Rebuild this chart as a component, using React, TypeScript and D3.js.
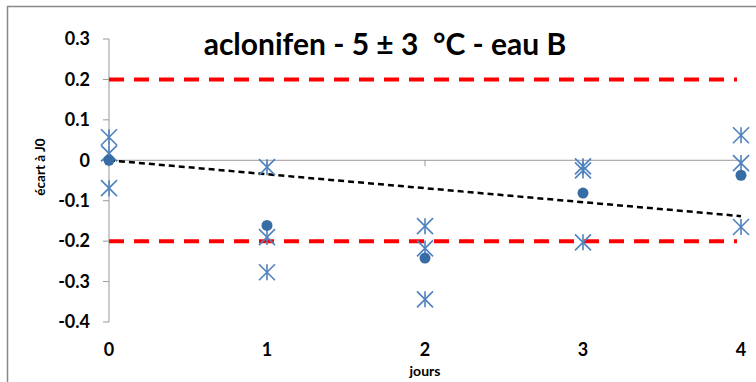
import React from "react";
import * as d3 from "d3";

const days = [0, 1, 2, 3, 4];
const meanValues = [0, -0.161, -0.242, -0.081, -0.037];
const replicateDays = [0, 0, 0, 1, 1, 1, 2, 2, 2, 3, 3, 3, 4, 4, 4];
const replicateValues = [
  0.057, 0.017, -0.069,
  -0.017, -0.19, -0.277,
  -0.163, -0.218, -0.344,
  -0.015, -0.025, -0.203,
  0.062, -0.007, -0.165,
];
const limitValues = [0.2, -0.2];
const yTicks = [0.3, 0.2, 0.1, 0, -0.1, -0.2, -0.3, -0.4];

const W = 756;
const H = 382;
const FONT = "Lato, 'Open Sans', sans-serif";

const fmtTick = (t: number) => (t === 0 ? "0" : d3.format(".1f")(t).replace("\u2212", "-"));

export default function App() {
  const x = d3.scaleLinear().domain([0, 4]).range([109, 741]);
  const y = d3.scaleLinear().domain([-0.4, 0.3]).range([322, 39]);

  // linear trend through the origin, fitted on the daily means
  const sxy = d3.sum(days, (d, i) => d * meanValues[i]);
  const sxx = d3.sum(days, (d) => d * d);
  const slope = sxy / sxx;
  const trend = d3.line<number>()
    .x((d) => x(d))
    .y((d) => y(slope * d));

  const star = (cx: number, cy: number, key: number) => {
    const r = 8;
    return (
      <g key={key} stroke="#4F81BD" strokeWidth={1.6}>
        <line x1={cx - r} y1={cy - r} x2={cx + r} y2={cy + r} />
        <line x1={cx - r} y1={cy + r} x2={cx + r} y2={cy - r} />
        <line x1={cx} y1={cy - r} x2={cx} y2={cy + r} />
      </g>
    );
  };

  return (
    <svg
      width={W}
      height={H}
      style={{ position: "absolute", left: 0, top: 0, display: "block", background: "#fff" }}
    >
      <rect x={7.5} y={6.5} width={W + 20} height={H + 20} fill="#fff" stroke="#898989" strokeWidth={1.5} />

      <text
        x={385}
        y={55}
        textAnchor="middle"
        fontFamily={FONT}
        fontWeight="bold"
        fontSize={30}
        fill="#000"
        style={{ whiteSpace: "pre" }}
      >
        {"aclonifen - 5 ± 3  °C - eau B"}
      </text>

      {/* y axis */}
      <line x1={x(0)} x2={x(0)} y1={y(0.3)} y2={y(-0.4)} stroke="#999" strokeWidth={1} />
      {yTicks.map((t) => (
        <g key={t}>
          <line x1={x(0) - 6} x2={x(0)} y1={y(t)} y2={y(t)} stroke="#999" strokeWidth={1} />
          <text x={90} y={y(t)} dy="0.35em" textAnchor="end" fontFamily={FONT} fontWeight="bold" fontSize={18} fill="#000">
            {fmtTick(t)}
          </text>
        </g>
      ))}

      {/* x axis at zero */}
      <line x1={x(0)} x2={x(4)} y1={y(0)} y2={y(0)} stroke="#999" strokeWidth={1} />
      {days.map((d) => (
        <g key={d}>
          <line x1={x(d)} x2={x(d)} y1={y(0)} y2={y(0) + 6} stroke="#999" strokeWidth={1} />
          <text x={x(d)} y={350} dy="0.35em" textAnchor="middle" fontFamily={FONT} fontWeight="bold" fontSize={18} fill="#000">
            {d}
          </text>
        </g>
      ))}

      <text x={425} y={371} dy="0.35em" textAnchor="middle" fontFamily={FONT} fontWeight="bold" fontSize={14} fill="#000">
        jours
      </text>
      <text
        transform={`translate(40,${167}) rotate(-90)`}
        dy="0.35em"
        textAnchor="middle"
        fontFamily={FONT}
        fontWeight="bold"
        fontSize={13.5}
        fill="#000"
      >
        écart à J0
      </text>

      {/* acceptance limits */}
      {limitValues.map((v) => (
        <line key={v} x1={x(0)} x2={x(4) - 4} y1={y(v)} y2={y(v)} stroke="#FF0000" strokeWidth={4} strokeDasharray="15 10" />
      ))}

      {/* trend */}
      <path d={trend([0, 4]) || ""} fill="none" stroke="#000" strokeWidth={2.5} strokeDasharray="6 4" />

      {/* replicates */}
      {replicateValues.map((v, i) => star(x(replicateDays[i]), y(v), i))}

      {/* means */}
      {meanValues.map((v, i) => (
        <circle key={i} cx={x(days[i])} cy={y(v)} r={5.5} fill="#386CA4" />
      ))}
    </svg>
  );
}
